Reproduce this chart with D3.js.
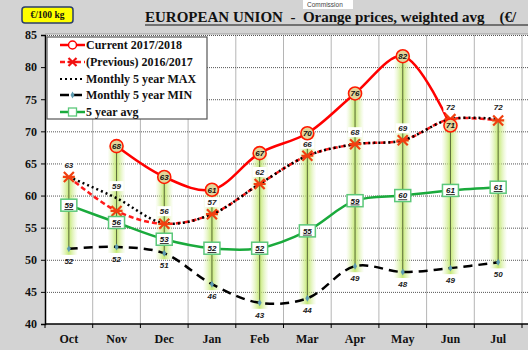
<!DOCTYPE html>
<html><head><meta charset="utf-8">
<script src="https://cdn.jsdelivr.net/npm/d3@7/dist/d3.min.js"></script>
<style>body{margin:0;background:#d3d3d3;}svg{display:block;}</style>
</head><body>
<svg id="c" width="528" height="350"></svg>
<script>
const months = ["Oct","Nov","Dec","Jan","Feb","Mar","Apr","May","Jun","Jul"];
const current = [null,67.7,62.9,60.9,66.6,69.7,75.9,81.7,70.9,null];
const currentLbl = [null,68,63,61,67,70,76,82,71,null];
const previous = [62.9,57.6,55.6,57.1,61.8,66.2,68.0,68.6,71.9,71.7];
const max5 = [62.9,59.6,55.7,57.1,61.8,66.2,68.0,68.6,71.9,71.9];
const maxLbl = [63,59,56,57,62,66,68,69,72,72];
const min5 = [51.7,52.0,51.0,46.2,43.3,44.0,49.0,48.1,48.7,49.6];
const minLbl = [52,52,51,46,43,44,49,48,49,50];
const avg5 = [58.5,55.8,53.2,51.8,51.8,54.5,59.2,60.0,60.8,61.3];
const avgLbl = [59,56,53,52,52,55,59,60,61,61];
const yTicks = [40,45,50,55,60,65,70,75,80,85];
const legendLabels = ["Current 2017/2018","(Previous) 2016/2017","Monthly 5 year MAX","Monthly 5 year MIN","5 year avg"];

const svg = d3.select("#c");
const L=45,R=522,T=35,B=324;
const x = d3.scaleBand().domain(months).range([L,R]);
const y = d3.scaleLinear().domain([40,85]).range([B,T]);
const cx = m => x(m)+x.bandwidth()/2;
const serif = "'Liberation Serif','Times New Roman',serif";
const sans = "'Liberation Sans',Arial,sans-serif";

svg.append("rect").attr("width",528).attr("height",350).attr("fill","#d3d3d3");
svg.append("rect").attr("x",L).attr("y",T-1).attr("width",528-L).attr("height",B-T+1).attr("fill","#fff");
svg.append("line").attr("x1",L).attr("x2",528).attr("y1",T-1).attr("y2",T-1).attr("stroke","#999").attr("stroke-width",1);

const defs = svg.append("defs");
const g = defs.append("linearGradient").attr("id","glow").attr("x1","0").attr("x2","1").attr("y1","0").attr("y2","0");
g.append("stop").attr("offset","0").attr("stop-color","#d7f0a0").attr("stop-opacity",0);
g.append("stop").attr("offset","0.5").attr("stop-color","#c2e86e").attr("stop-opacity",0.95);
g.append("stop").attr("offset","1").attr("stop-color","#d7f0a0").attr("stop-opacity",0);

// grid
svg.append("g").selectAll("line").data(d3.range(1,11)).join("line")
  .attr("x1",i=>L+x.step()*i).attr("x2",i=>L+x.step()*i)
  .attr("y1",T).attr("y2",B).attr("stroke","#b5b5b5").attr("stroke-width",1);
svg.append("g").selectAll("line").data(yTicks.slice(1)).join("line")
  .attr("x1",L).attr("x2",528).attr("y1",d=>y(d)+0.5).attr("y2",d=>y(d)+0.5)
  .attr("stroke","#555").attr("stroke-width",1).attr("stroke-dasharray","1,1");

// hi-lo glow and lines
const tops = months.map((m,i)=>Math.max(current[i]??0,previous[i],max5[i]));
svg.append("g").selectAll("rect").data(months).join("rect")
  .attr("x",d=>cx(d)-9).attr("width",18)
  .attr("y",(d,i)=>y(tops[i])).attr("height",(d,i)=>y(min5[i])-y(tops[i])+6)
  .attr("fill","url(#glow)");
svg.append("g").selectAll("line").data(months).join("line")
  .attr("x1",d=>cx(d)).attr("x2",d=>cx(d))
  .attr("y1",(d,i)=>y(tops[i])).attr("y2",(d,i)=>y(min5[i]))
  .attr("stroke","#5a6a3a").attr("stroke-width",1);

// axes
const ya = d3.axisLeft(y).tickValues(yTicks).tickSize(4).tickPadding(4);
const yg = svg.append("g").attr("transform",`translate(${L},0)`).call(ya);
yg.select(".domain").attr("stroke","#000").attr("stroke-width",1.5);
yg.selectAll("text").attr("font-family",serif).attr("font-weight","bold").attr("font-size",12).attr("fill","#111");
const xa = d3.axisBottom(x).tickSize(0).tickPadding(10);
const xg = svg.append("g").attr("transform",`translate(0,${B})`).call(xa);
xg.select(".domain").remove();
xg.selectAll("text").attr("font-family",serif).attr("font-weight","bold").attr("font-size",12).attr("fill","#111");
svg.append("line").attr("x1",L).attr("x2",528).attr("y1",B).attr("y2",B).attr("stroke","#000").attr("stroke-width",1.5);
svg.append("g").selectAll("line").data(d3.range(11)).join("line")
  .attr("x1",i=>L+x.step()*i).attr("x2",i=>L+x.step()*i).attr("y1",B).attr("y2",B+4).attr("stroke","#000");

const curve = d3.curveCatmullRom.alpha(0.5);
const lineGen = arr => d3.line().defined(d=>d[1]!=null).x(d=>cx(d[0])).y(d=>y(d[1])).curve(curve)(months.map((m,i)=>[m,arr[i]]));

svg.append("path").attr("d",lineGen(min5)).attr("fill","none").attr("stroke","#000").attr("stroke-width",2.5).attr("stroke-dasharray","9,6");
svg.append("path").attr("d",lineGen(avg5)).attr("fill","none").attr("stroke","#1aaa3c").attr("stroke-width",2.5);
svg.append("path").attr("d",lineGen(previous)).attr("fill","none").attr("stroke","#ff1a1a").attr("stroke-width",2.5).attr("stroke-dasharray","5,3");
svg.append("path").attr("d",lineGen(max5)).attr("fill","none").attr("stroke","#000").attr("stroke-width",2.5).attr("stroke-dasharray","2,3");
svg.append("path").attr("d",lineGen(current)).attr("fill","none").attr("stroke","#ff0000").attr("stroke-width",2.5);

svg.append("g").selectAll("path").data(months).join("path")
  .attr("d",d3.symbol(d3.symbolDiamond,14)()).attr("transform",(d,i)=>`translate(${cx(d)},${y(min5[i])})`)
  .attr("fill","#5b9bb0");
svg.append("g").selectAll("text").data(months).join("text")
  .attr("x",d=>cx(d)).attr("y",(d,i)=>y(min5[i])+15).attr("text-anchor","middle")
  .attr("font-family",sans).attr("font-style","italic").attr("font-weight","bold").attr("font-size",8).attr("fill","#222")
  .text((d,i)=>minLbl[i]);

const cross = svg.append("g").selectAll("g").data(months).join("g").attr("transform",(d,i)=>`translate(${cx(d)},${y(previous[i])})`);
cross.append("path").attr("d","M-5,-5L5,5M-5,5L5,-5M-6,0L6,0").attr("stroke","#f04010").attr("stroke-width",2.2);

const ml = svg.append("g").selectAll("g").data(months).join("g")
  .attr("transform",(d,i)=>`translate(${cx(d)},${y(max5[i])-12})`);
ml.append("rect").attr("x",-7).attr("y",-5).attr("width",14).attr("height",10).attr("fill","#fff");
ml.append("text").attr("text-anchor","middle").attr("dy","0.35em")
  .attr("font-family",sans).attr("font-style","italic").attr("font-weight","bold").attr("font-size",8).attr("fill","#222")
  .text((d,i)=>maxLbl[i]);

const am = svg.append("g").selectAll("g").data(months).join("g")
  .attr("transform",(d,i)=>`translate(${cx(d)},${y(avg5[i])})`);
am.append("rect").attr("x",-8).attr("y",-6).attr("width",16).attr("height",12).attr("fill","#fff").attr("stroke","#5cc87a").attr("stroke-width",1.5);
am.append("text").attr("text-anchor","middle").attr("dy","0.35em")
  .attr("font-family",sans).attr("font-style","italic").attr("font-weight","bold").attr("font-size",8).attr("fill","#111")
  .attr("text-decoration","underline").text((d,i)=>avgLbl[i]);

const cm = svg.append("g").selectAll("g").data(months.filter((m,i)=>current[i]!=null)).join("g")
  .attr("transform",d=>`translate(${cx(d)},${y(current[months.indexOf(d)])})`);
cm.append("circle").attr("r",6.5).attr("fill","#e3d69a").attr("stroke","#ff1a00").attr("stroke-width",1.6);
cm.append("text").attr("text-anchor","middle").attr("dy","0.35em")
  .attr("font-family",sans).attr("font-style","italic").attr("font-weight","bold").attr("font-size",8).attr("fill","#111")
  .text(d=>currentLbl[months.indexOf(d)]);

// legend
const lg = svg.append("g");
lg.append("rect").attr("x",47).attr("y",37).attr("width",160).attr("height",82).attr("fill","#fff").attr("stroke","#555").attr("stroke-width",1.2);
const ly = [45,62,79,95,112];
const sx1=60, sx2=85;
lg.append("line").attr("x1",sx1).attr("x2",sx2).attr("y1",ly[0]).attr("y2",ly[0]).attr("stroke","#ff0000").attr("stroke-width",2.5);
lg.append("circle").attr("cx",(sx1+sx2)/2).attr("cy",ly[0]).attr("r",4).attr("fill","#fff").attr("stroke","#ff0000").attr("stroke-width",1.5);
lg.append("line").attr("x1",sx1).attr("x2",sx2).attr("y1",ly[1]).attr("y2",ly[1]).attr("stroke","#ff1a1a").attr("stroke-width",2.5).attr("stroke-dasharray","5,3");
lg.append("path").attr("d","M-4,-4L4,4M-4,4L4,-4M-5,0L5,0").attr("transform",`translate(${(sx1+sx2)/2},${ly[1]})`).attr("stroke","#f01010").attr("stroke-width",2.2);
lg.append("line").attr("x1",sx1).attr("x2",sx2).attr("y1",ly[2]).attr("y2",ly[2]).attr("stroke","#000").attr("stroke-width",2).attr("stroke-dasharray","2,3");
lg.append("line").attr("x1",sx1).attr("x2",sx2).attr("y1",ly[3]).attr("y2",ly[3]).attr("stroke","#000").attr("stroke-width",2.5).attr("stroke-dasharray","9,4");
lg.append("path").attr("d",d3.symbol(d3.symbolDiamond,14)()).attr("transform",`translate(${(sx1+sx2)/2},${ly[3]})`).attr("fill","#5b9bb0");
lg.append("line").attr("x1",sx1).attr("x2",sx2).attr("y1",ly[4]).attr("y2",ly[4]).attr("stroke","#1aaa3c").attr("stroke-width",2.5);
lg.append("rect").attr("x",(sx1+sx2)/2-4).attr("y",ly[4]-4).attr("width",8).attr("height",8).attr("fill","#fff").attr("stroke","#5cc87a").attr("stroke-width",1.3);
lg.selectAll("text").data(legendLabels).join("text")
  .attr("x",86).attr("y",(d,i)=>ly[i]).attr("dy","0.35em")
  .attr("font-family",serif).attr("font-weight","bold").attr("font-size",12).attr("fill","#111").text(d=>d);

// header
svg.append("rect").attr("x",22).attr("y",7).attr("width",51).attr("height",16).attr("rx",3)
  .attr("fill","#ffff00").attr("stroke","#2b3f6a").attr("stroke-width",1.5);
svg.append("text").attr("x",47.5).attr("y",15).attr("dy","0.35em").attr("text-anchor","middle")
  .attr("font-family",serif).attr("font-weight","bold").attr("font-size",9.5).attr("fill","#111").text("€/100 kg");
svg.append("text").attr("x",145).attr("y",22)
  .attr("font-family",serif).attr("font-weight","bold").attr("font-size",15).attr("fill","#111")
  .style("white-space","pre")
  .text("EUROPEAN UNION  -  Orange prices, weighted avg    (€/");
svg.append("line").attr("x1",145).attr("x2",528).attr("y1",25).attr("y2",25).attr("stroke","#111").attr("stroke-width",1.2);
svg.append("rect").attr("x",303).attr("y",0).attr("width",50).attr("height",9).attr("fill","#fff");
svg.append("text").attr("x",307).attr("y",5).attr("dy","0.35em").attr("font-family",sans).attr("font-size",6.5).attr("fill","#444").text("Commission");
</script>
</body></html>
